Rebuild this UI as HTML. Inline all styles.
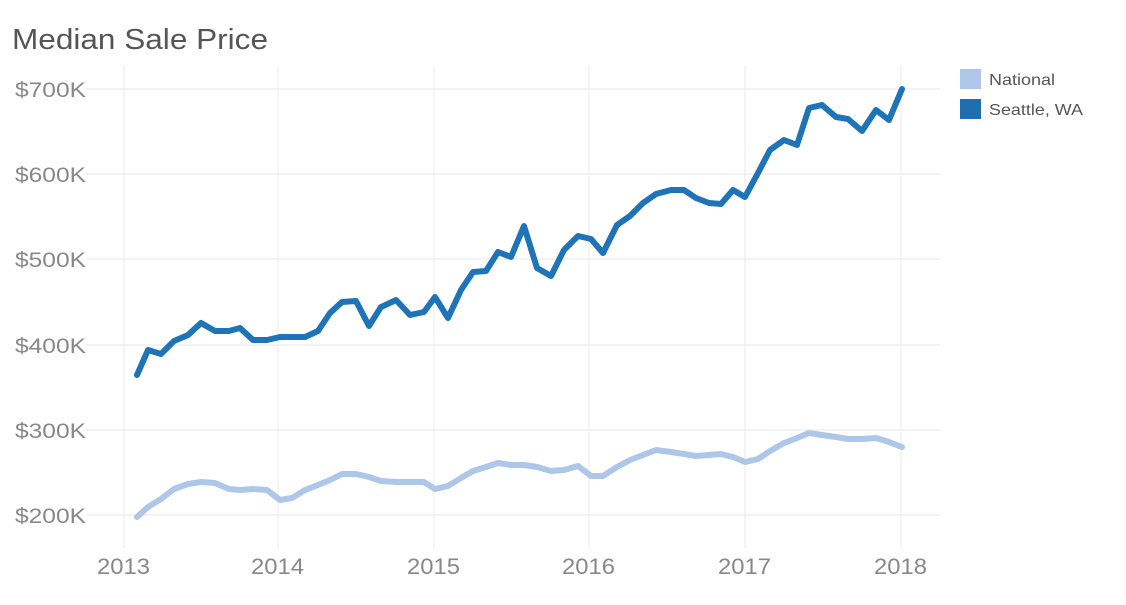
<!DOCTYPE html>
<html><head><style>
body{margin:0;background:#fff;width:1126px;height:600px;overflow:hidden}
text{font-family:"Liberation Sans",sans-serif}
</style></head><body>
<svg width="1126" height="600" xmlns="http://www.w3.org/2000/svg">
<rect width="1126" height="600" fill="#fff"/>
<text x="12" y="49" font-size="29" fill="#555" textLength="256" lengthAdjust="spacingAndGlyphs">Median Sale Price</text>
<g stroke="#ececf0" stroke-width="1.2">
<line x1="86" y1="89" x2="940" y2="89"/><line x1="86" y1="174" x2="940" y2="174"/>
<line x1="86" y1="259" x2="940" y2="259"/><line x1="86" y1="345" x2="940" y2="345"/>
<line x1="86" y1="430" x2="940" y2="430"/><line x1="86" y1="515" x2="940" y2="515"/>
<line x1="124" y1="65" x2="124" y2="548"/><line x1="278" y1="65" x2="278" y2="548"/>
<line x1="434" y1="65" x2="434" y2="548"/><line x1="589" y1="65" x2="589" y2="548"/>
<line x1="745" y1="65" x2="745" y2="548"/><line x1="901" y1="65" x2="901" y2="548"/>
</g>
<g font-size="21" fill="#888">
<text x="15" y="97" textLength="71" lengthAdjust="spacingAndGlyphs">$700K</text>
<text x="15" y="182" textLength="71" lengthAdjust="spacingAndGlyphs">$600K</text>
<text x="15" y="267" textLength="71" lengthAdjust="spacingAndGlyphs">$500K</text>
<text x="15" y="353" textLength="71" lengthAdjust="spacingAndGlyphs">$400K</text>
<text x="15" y="438" textLength="71" lengthAdjust="spacingAndGlyphs">$300K</text>
<text x="15" y="523" textLength="71" lengthAdjust="spacingAndGlyphs">$200K</text>
</g>
<g font-size="22" fill="#888">
<text x="97" y="574" textLength="53" lengthAdjust="spacingAndGlyphs">2013</text>
<text x="251" y="574" textLength="53" lengthAdjust="spacingAndGlyphs">2014</text>
<text x="407" y="574" textLength="53" lengthAdjust="spacingAndGlyphs">2015</text>
<text x="562" y="574" textLength="53" lengthAdjust="spacingAndGlyphs">2016</text>
<text x="718" y="574" textLength="53" lengthAdjust="spacingAndGlyphs">2017</text>
<text x="874" y="574" textLength="53" lengthAdjust="spacingAndGlyphs">2018</text>
</g>
<polyline fill="none" stroke="#aec7e8" stroke-width="6" stroke-linejoin="round" stroke-linecap="round" points="137,517 148,507 161,499 174,489 188,484 201,482 215,483 229,489 240,490 253,489 267,490 280,500 292,498 305,490 318,485 330,480 342,474 356,474 369,477 381,481 396,482 410,482 424,482 435,489 448,486 461,478 473,471 486,467 498,463 511,465 524,465 537,467 551,471 564,470 578,466 591,476 603,476 617,467 630,460 643,455 656,450 671,452 684,454 696,456 709,455 721,454 733,457 745,462 758,459 770,451 784,443 797,438 809,433 822,435 836,437 848,439 862,439 876,438 889,442 902,447"/>
<polyline fill="none" stroke="#1f74b8" stroke-width="6" stroke-linejoin="round" stroke-linecap="round" points="137,375 148,350 161,354 174,341 188,335 201,323 215,331 229,331 240,328 253,340 267,340 280,337 292,337 305,337 318,331 330,313 342,302 356,301 369,326 381,307 396,300 410,315 424,312 435,297 448,318 461,290 473,272 486,271 498,252 511,257 524,226 537,268 551,276 564,250 578,236 591,239 603,253 617,225 630,216 643,203 656,194 671,190 684,190 696,198 709,203 721,204 733,190 745,197 758,173 770,150 784,140 797,145 809,108 822,105 836,117 848,119 862,131 876,110 889,120 902,89"/>
<rect x="960" y="69" width="21" height="20" fill="#aec7e8"/>
<rect x="960" y="99" width="21" height="20" fill="#1f6fb0"/>
<g font-size="16" fill="#555">
<text x="989" y="85" textLength="66" lengthAdjust="spacingAndGlyphs">National</text>
<text x="989" y="115" textLength="94" lengthAdjust="spacingAndGlyphs">Seattle, WA</text>
</g>
</svg>
</body></html>
